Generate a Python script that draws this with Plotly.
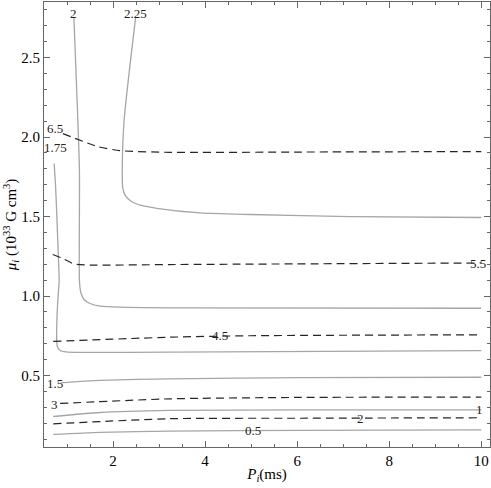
import plotly.graph_objects as go

# solid (grey) contours
p050_x = [0.70, 1.72, 3.24, 6.07, 10.0]
p050_y = [0.129, 0.142, 0.150, 0.154, 0.158]

p100_x = [0.70, 1.72, 3.24, 6.07, 10.0]
p100_y = [0.242, 0.267, 0.280, 0.283, 0.284]

p150_x = [0.85, 1.72, 3.24, 6.07, 10.0]
p150_y = [0.454, 0.469, 0.479, 0.486, 0.489]

p175_x = [0.72, 0.75, 0.78, 0.815, 0.83, 0.80, 0.78, 0.776, 0.79, 0.85, 0.98, 1.28, 3.24, 10.0]
p175_y = [1.833, 1.70, 1.494, 1.223, 1.097, 0.972, 0.846, 0.72, 0.682, 0.657, 0.648, 0.645, 0.647, 0.657]

p200_x = [1.15, 1.21, 1.27, 1.27, 1.30, 1.37, 1.50, 1.72, 2.15, 3.24, 10.0]
p200_y = [2.75, 2.30, 1.79, 1.097, 1.022, 0.978, 0.953, 0.937, 0.930, 0.926, 0.923]

p225_x = [2.49, 2.24, 2.20, 2.21, 2.27, 2.40, 2.62, 2.95, 3.89, 4.98, 7.15, 10.0]
p225_y = [2.752, 2.104, 1.789, 1.68, 1.63, 1.595, 1.570, 1.552, 1.523, 1.513, 1.500, 1.494]

# dashed (dark) contours
d20_x = [0.70, 3.24, 6.07, 10.0]
d20_y = [0.196, 0.228, 0.231, 0.234]

d30_x = [0.85, 3.24, 6.07, 10.0]
d30_y = [0.324, 0.353, 0.362, 0.364]

d45_x = [0.70, 3.24, 4.98, 10.0]
d45_y = [0.714, 0.741, 0.750, 0.756]

d55_x = [0.69, 0.91, 1.14, 1.50, 3.24, 10.0]
d55_y = [1.261, 1.236, 1.203, 1.195, 1.198, 1.208]

d65_x = [0.91, 1.67, 2.15, 3.24, 6.07, 10.0]
d65_y = [2.022, 1.940, 1.915, 1.904, 1.906, 1.909]

# contour labels
label_text = ["0.5", "1", "1.5", "1.75", "2", "2.25", "2", "3", "4.5", "5.5", "6.5"]
label_x = [5.04, 9.96, 0.74, 0.75, 1.13, 2.48, 7.37, 0.72, 4.33, 9.93, 0.74]
label_y = [0.155, 0.284, 0.452, 1.934, 2.78, 2.78, 0.232, 0.318, 0.750, 1.206, 2.053]

solid = [(p050_x, p050_y), (p100_x, p100_y), (p150_x, p150_y),
         (p175_x, p175_y), (p200_x, p200_y), (p225_x, p225_y)]
dashed = [(d20_x, d20_y), (d30_x, d30_y), (d45_x, d45_y),
          (d55_x, d55_y), (d65_x, d65_y)]

SERIF = "'Liberation Serif', 'DejaVu Serif', serif"

fig = go.Figure()

for xs, ys in solid:
    fig.add_trace(go.Scatter(
        x=xs, y=ys, mode="lines",
        line=dict(color="#a6a6a6", width=1.3, shape="spline", smoothing=0.6),
        showlegend=False, hoverinfo="skip"
    ))

for xs, ys in dashed:
    fig.add_trace(go.Scatter(
        x=xs, y=ys, mode="lines",
        line=dict(color="#262626", width=1.2, dash="8px,5px", shape="spline", smoothing=0.6),
        showlegend=False, hoverinfo="skip"
    ))

for t, lx, ly in zip(label_text, label_x, label_y):
    fig.add_annotation(x=lx, y=ly, text=t, showarrow=False,
                       font=dict(family=SERIF, size=13, color="#222"))

fig.update_layout(
    width=491,
    height=488,
    margin=dict(l=44, r=1, t=2, b=41),
    plot_bgcolor="white",
    paper_bgcolor="white",
    font=dict(family=SERIF, size=15, color="black"),
    showlegend=False
)
fig.update_xaxes(
    range=[0.5, 10.19],
    tickvals=[2, 4, 6, 8, 10],
    ticks="inside", ticklen=6, tickcolor="#666",
    minor=dict(ticks="inside", ticklen=3, tickcolor="#666", dtick=0.5, tick0=0),
    showline=True, linecolor="#666", linewidth=1, mirror="allticks",
    showgrid=False, zeroline=False,
    title=dict(text="<i>P</i><sub><i>i</i></sub>(ms)", font=dict(size=15), standoff=0)
)
fig.update_yaxes(
    range=[0.05, 2.85],
    tickvals=[0.5, 1.0, 1.5, 2.0, 2.5], tickformat=".1f",
    ticks="inside", ticklen=6, tickcolor="#666",
    minor=dict(ticks="inside", ticklen=3, tickcolor="#666", dtick=0.1, tick0=0),
    showline=True, linecolor="#666", linewidth=1, mirror="allticks",
    showgrid=False, zeroline=False,
    title=dict(text="<i>μ</i><sub><i>i</i></sub> (10<sup>33</sup> G cm<sup>3</sup>)",
               font=dict(size=15), standoff=0)
)

# drop the default page margin so the chart sits at the window's corner
fig.write_html("out.html", config={"displayModeBar": False},
               post_script="document.body.style.margin='0';")
